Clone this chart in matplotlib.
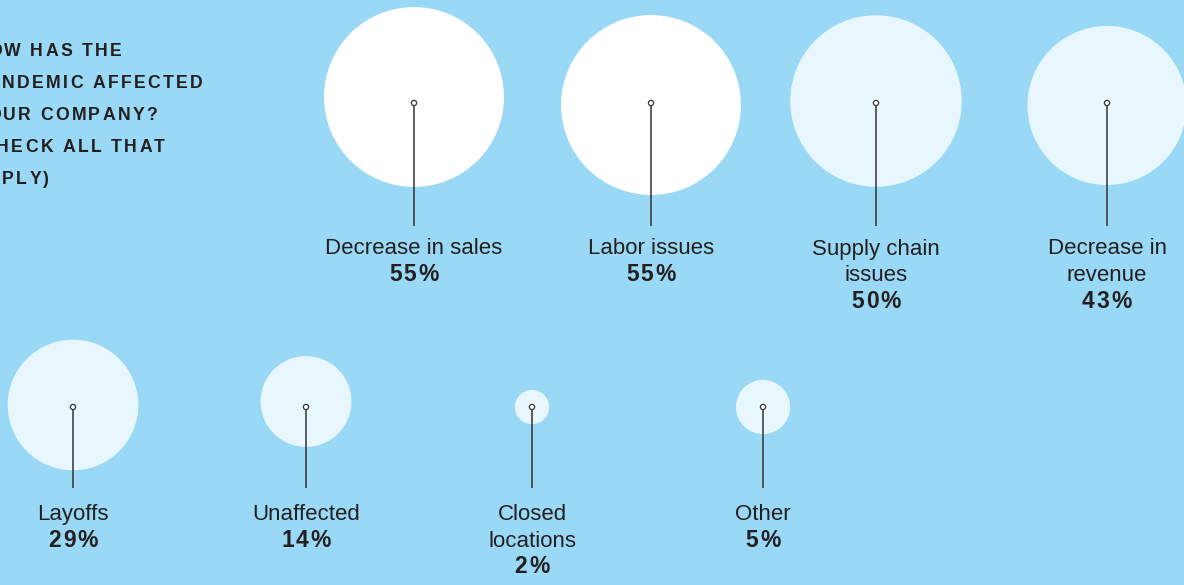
import matplotlib.pyplot as plt
from matplotlib.patches import Circle
import numpy as np

# Survey answers (share of respondents, %)
categories = ["Decrease in sales", "Labor issues", "Supply chain\nissues",
              "Decrease in\nrevenue", "Layoffs", "Unaffected",
              "Closed\nlocations", "Other"]
values = [55, 55, 50, 43, 29, 14, 2, 5]

title_lines = ["HOW HAS THE", "PANDEMIC AFFECTED", "YOUR COMPANY?",
               "(CHECK ALL THAT", "APPLY)"]

# layout (pixels)
W, H = 1184, 585
col_x = [414, 651, 876, 1107, 73, 306, 532, 763]
row = [0, 0, 0, 0, 1, 1, 1, 1]
circle_dy = [-6, 2, -2, 2.5, -2, -5.5, 0, 0]
pin_y = [103, 407]
stem_end = [226, 488]
label_base = [254.5, 520]
line_step = 26.7
scale = 12.13   # px per sqrt(%)

bg = "#99d9f6"
light = "#e8f6fd"
ink = "#231f20"
font = "Liberation Sans"

fig = plt.figure(figsize=(W / 100, H / 100), dpi=100, facecolor=bg)
ax = fig.add_axes([0, 0, 1, 1])
ax.set_xlim(0, W)
ax.set_ylim(H, 0)
ax.set_aspect("equal")
ax.axis("off")
ax.set_facecolor(bg)
rend = fig.canvas.get_renderer()


# letter-spaced text, drawn one glyph at a time
def tracked_text(x, y, s, track, size, weight="bold", ha="left"):
    space = 0.278 * size * 100 / 72
    items, pos = [], 0.0
    for ch in s:
        if ch == " ":
            pos += space + track
            continue
        t = ax.text(0, y, ch, ha="left", va="baseline", fontsize=size,
                    fontweight=weight, color=ink, family=font)
        items.append((t, pos))
        pos += t.get_window_extent(renderer=rend).width + track
    total = pos - track
    x0 = x - total / 2 if ha == "center" else x
    for t, p in items:
        t.set_x(x0 + p)


vmax = max(values)
for i, (cat, v) in enumerate(zip(categories, values)):
    r = row[i]
    x = col_x[i]
    py = pin_y[r]
    fc = "white" if v == vmax else light
    ax.add_patch(Circle((x, py + circle_dy[i]), scale * np.sqrt(v),
                        facecolor=fc, edgecolor="none", zorder=1))
    ax.plot([x, x], [py, stem_end[r]], color="#333333", lw=1.1,
            solid_capstyle="butt", zorder=2)
    ax.add_patch(Circle((x, py), 2.6, facecolor="white",
                        edgecolor="#333333", lw=0.9, zorder=3))
    lines = cat.split("\n")
    for j, ln in enumerate(lines):
        ax.text(x, label_base[r] + j * line_step, ln, ha="center",
                va="baseline", fontsize=16, color=ink, family=font)
    tracked_text(x, label_base[r] + len(lines) * line_step, f"{v}%",
                 2.0, 16.5, ha="center")

for k, ln in enumerate(title_lines):
    tracked_text(-27, 56.5 + k * 32, ln, 2.3, 12.7)

fig.savefig("out.png", dpi=100, facecolor=bg)
